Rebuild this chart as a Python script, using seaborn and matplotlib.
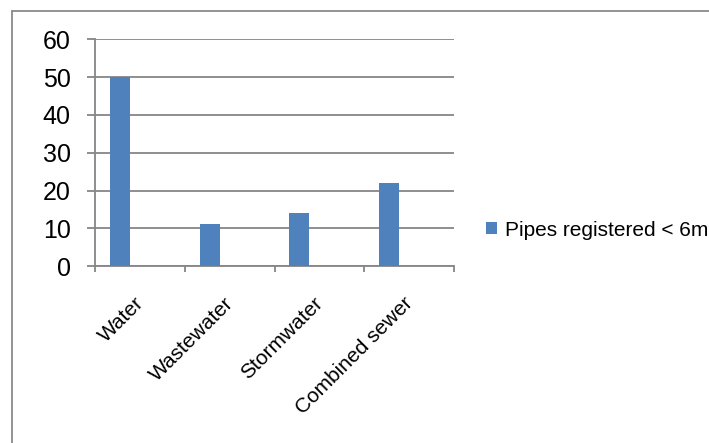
import matplotlib
matplotlib.use("Agg")
import matplotlib.pyplot as plt
from matplotlib.lines import Line2D
from matplotlib.patches import Patch
import matplotlib.transforms as mtransforms
import seaborn as sns
import pandas as pd

# Pipe categories and counts of registered pipes shorter than 6 m
categories = ["Water", "Wastewater", "Stormwater", "Combined sewer"]
pipes_under_6m = [50, 11, 14, 22]
series_names = ["Pipes registered < 6m", "Series 2", "Series 3"]
y_ticks = [0, 10, 20, 30, 40, 50, 60]

bar_color = "#4F81BD"
grey = "#868686"

sns.set_theme(style="white")
plt.rcParams["font.family"] = ["Liberation Sans", "DejaVu Sans"]
plt.rcParams["text.color"] = "black"
plt.rcParams["xtick.labelcolor"] = "black"
plt.rcParams["ytick.labelcolor"] = "black"

# The chart has three series slots per category; only the first one holds data.
rows = []
for cat, val in zip(categories, pipes_under_6m):
    rows.append({"category": cat, "series": series_names[0], "value": val})
    for s in series_names[1:]:
        rows.append({"category": cat, "series": s, "value": 0})
df = pd.DataFrame(rows)

fig = plt.figure(figsize=(7.09, 4.43), dpi=100)
ax = fig.add_axes([95 / 709, 1 - 266 / 443, 359 / 709, 226.5 / 443])

sns.barplot(
    data=df, x="category", y="value", hue="series",
    hue_order=series_names, order=categories,
    palette=[bar_color, bar_color, bar_color],
    width=2 / 3, gap=0, linewidth=0, saturation=1,
    legend=False, ax=ax, zorder=3,
)

ax.set_xlim(-0.5, len(categories) - 0.5)
ax.set_ylim(0, 60)
ax.set_yticks(y_ticks)
ax.set_xlabel("")
ax.set_ylabel("")

# Horizontal gridlines
ax.yaxis.grid(True, color=grey, linewidth=1.3, zorder=0)
ax.xaxis.grid(False)
ax.set_axisbelow(True)

for side in ["top", "right"]:
    ax.spines[side].set_visible(False)
for side in ["left", "bottom"]:
    ax.spines[side].set_color(grey)
    ax.spines[side].set_linewidth(1.3)

ax.tick_params(axis="y", which="major", direction="out", length=5.5,
               width=1.3, color=grey, pad=12, labelsize=18, left=True,
               labelcolor="black")

# Category labels at centres, tick marks at category boundaries
ax.set_xticks(range(len(categories)))
ax.set_xticklabels(categories, rotation=45, ha="right", va="top",
                   rotation_mode="anchor", fontsize=15, color="black")
ax.set_xticks([i - 0.5 for i in range(len(categories) + 1)], minor=True)
ax.tick_params(axis="x", which="major", length=0, pad=20)
ax.tick_params(axis="x", which="minor", direction="out", length=4.5,
               width=1.3, color=grey, bottom=True)
shift = mtransforms.ScaledTranslation(-6 / 100, 0, fig.dpi_scale_trans)
for lbl in ax.get_xticklabels():
    lbl.set_transform(lbl.get_transform() + shift)

# Legend with only the populated series
handle = Patch(facecolor=bar_color, edgecolor="none")
fig.legend([handle], [series_names[0]], loc="center left",
           bbox_to_anchor=(486 / 709, 1 - 230 / 443), frameon=False,
           fontsize=15, handlelength=0.55, handleheight=0.55,
           handletextpad=0.35, borderpad=0, borderaxespad=0)

# Outer chart-area border (left and top edges)
bx = 12 / 709
by = 1 - 11 / 443
fig.add_artist(Line2D([bx, bx], [0, by], transform=fig.transFigure,
                      color="#8a8a8a", linewidth=1.3))
fig.add_artist(Line2D([bx, 1.0], [by, by], transform=fig.transFigure,
                      color="#8a8a8a", linewidth=1.3))

fig.savefig("out.png", dpi=100)
